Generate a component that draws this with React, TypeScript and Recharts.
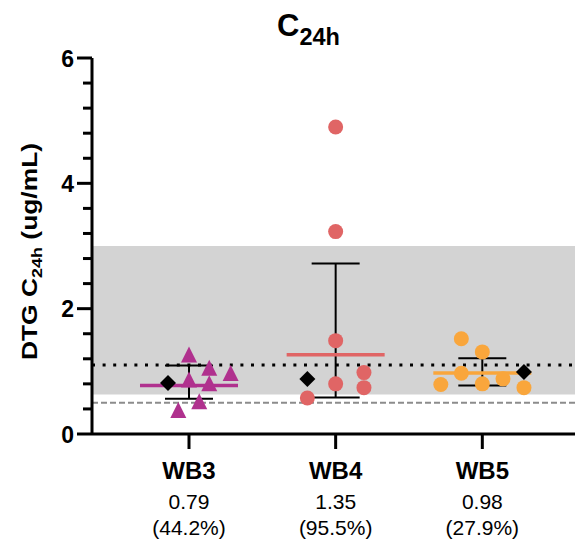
import React from "react";
import {
  ScatterChart,
  Scatter,
  XAxis,
  YAxis,
  ReferenceArea,
  ReferenceLine,
  ErrorBar,
  Customized,
} from "recharts";

// ---- data ----
const categories = ["WB3", "WB4", "WB5"];
const gmLabels = ["0.79", "1.35", "0.98"];
const cvLabels = ["(44.2%)", "(95.5%)", "(27.9%)"];

const wb3Values = [1.26, 1.05, 0.965, 0.86, 0.8, 0.515, 0.375];
const wb3Jitter = [0, 0.138, 0.284, 0, 0.138, 0.07, -0.073];
const wb4Values = [4.9, 3.23, 1.49, 0.8, 0.98, 0.74, 0.575];
const wb4Jitter = [0, 0, 0, 0, 0.193, 0.193, -0.193];
const wb5Values = [1.52, 1.31, 0.97, 0.79, 0.8, 0.88, 0.74];
const wb5Jitter = [-0.143, 0, -0.143, -0.283, 0, 0.141, 0.284];

const meanValues = [0.775, 1.265, 0.973];
const errLow = [0.563, 0.584, 0.775];
const errHigh = [1.095, 2.72, 1.21];

const diamondValues = [0.814, 0.878, 0.989];
const diamondJitter = [-0.143, -0.193, 0.284];

const bandLow = 0.63;
const bandHigh = 3.0;
const dottedRef = 1.1;
const dashedRef = 0.5;

const yTicks = [0, 0.4, 0.8, 1.2, 1.6, 2, 2.4, 2.8, 3.2, 3.6, 4, 4.4, 4.8, 5.2, 5.6, 6];
const yMajor = [0, 2, 4, 6];
const xTicks = [1, 2, 3];

// ---- styles ----
const FONT = "'Liberation Sans', Arial, sans-serif";
const PURPLE = "#B0318E";
const CORAL = "#E06565";
const ORANGE = "#F9A63C";

const toPoints = (vals: number[], jit: number[], group: number) =>
  vals.map((v, i) => ({ x: group + jit[i], y: v }));

const wb3Data = toPoints(wb3Values, wb3Jitter, 1);
const wb4Data = toPoints(wb4Values, wb4Jitter, 2);
const wb5Data = toPoints(wb5Values, wb5Jitter, 3);

const diamondData = diamondValues.map((v, i) => ({ x: i + 1 + diamondJitter[i], y: v }));
const errData = meanValues.map((_, i) => {
  const mid = (errLow[i] + errHigh[i]) / 2;
  return { x: i + 1, y: mid, err: [mid - errLow[i], errHigh[i] - mid] };
});
const meanColors = [PURPLE, CORAL, ORANGE];
const meanData = meanValues.map((v, i) => ({ x: i + 1, y: v, color: meanColors[i] }));

const Triangle = (props: any) => {
  const { cx, cy } = props;
  return (
    <polygon
      points={`${cx},${cy - 8.5} ${cx - 8},${cy + 7.5} ${cx + 8},${cy + 7.5}`}
      fill={PURPLE}
    />
  );
};
const makeCircle = (color: string) => (props: any) => (
  <circle cx={props.cx} cy={props.cy} r={7.5} fill={color} />
);
const Diamond = (props: any) => {
  const { cx, cy } = props;
  const h = 8;
  return (
    <polygon points={`${cx},${cy - h} ${cx + h},${cy} ${cx},${cy + h} ${cx - h},${cy}`} fill="#000" />
  );
};
const MeanLine = (props: any) => {
  const { cx, cy, payload } = props;
  return <line x1={cx - 49} x2={cx + 49} y1={cy} y2={cy} stroke={payload.color} strokeWidth={3.5} />;
};
const Empty = () => <g />;

const YTick = (props: any) => {
  const { x, y, payload } = props;
  const v = payload.value;
  const major = yMajor.includes(v);
  const len = major ? 15 : 9;
  return (
    <g>
      <line x1={x - len} x2={x} y1={y} y2={y} stroke="#000" strokeWidth={3} />
      {major && (
        <text
          x={x - len - 3}
          y={y + 8.5}
          textAnchor="end"
          fontSize={23}
          fontWeight="bold"
          fontFamily={FONT}
          fill="#000"
        >
          {v}
        </text>
      )}
    </g>
  );
};

const XTick = (props: any) => {
  const { x, y, payload } = props;
  const i = xTicks.indexOf(payload.value);
  return (
    <g fontFamily={FONT} fill="#000">
      <text x={x} y={y + 30} textAnchor="middle" fontSize={24} fontWeight="bold">
        {categories[i]}
      </text>
      <text x={x} y={y + 60} textAnchor="middle" fontSize={21}>
        {gmLabels[i]}
      </text>
      <text x={x} y={y + 86} textAnchor="middle" fontSize={21}>
        {cvLabels[i]}
      </text>
    </g>
  );
};

const Titles = () => (
  <g fontFamily={FONT} fill="#000" fontWeight="bold">
    <text x={277} y={36} textAnchor="start">
      <tspan fontSize={31}>C</tspan>
      <tspan fontSize={23.5} dy={9}>24h</tspan>
    </text>
    <g transform="translate(36.5 251.5) rotate(-90) scale(1.2 1)">
      <text x={0} y={0} textAnchor="middle">
        <tspan fontSize={22}>DTG C</tspan>
        <tspan fontSize={15} dy={5}>24h</tspan>
        <tspan fontSize={22} dy={-5}> (ug/mL)</tspan>
      </text>
    </g>
  </g>
);

export default function App() {
  return (
    <div style={{ position: "absolute", left: 0, top: 0, width: 575, height: 544, background: "#fff" }}>
      <ScatterChart width={575} height={544} margin={{ top: 58, right: 0, bottom: 0, left: 0 }}>
        <XAxis
          type="number"
          dataKey="x"
          domain={[0.3386, 3.632]}
          ticks={xTicks}
          allowDataOverflow
          height={110}
          tickSize={15}
          tickMargin={0}
          axisLine={{ stroke: "#000", strokeWidth: 3 }}
          tickLine={{ stroke: "#000", strokeWidth: 3 }}
          tick={<XTick />}
          interval={0}
        />
        <YAxis
          type="number"
          dataKey="y"
          domain={[0, 6]}
          ticks={yTicks}
          allowDataOverflow
          width={92}
          tickSize={0}
          tickMargin={0}
          axisLine={{ stroke: "#000", strokeWidth: 3 }}
          tickLine={false}
          tick={<YTick />}
          interval={0}
        />
        <ReferenceArea y1={bandLow} y2={bandHigh} fill="#d3d3d3" fillOpacity={1} stroke="none" />
        <ReferenceLine y={dottedRef} stroke="#000" strokeWidth={3} strokeDasharray="3 7.6" />
        <ReferenceLine y={dashedRef} stroke="#8c8c8c" strokeWidth={2} strokeDasharray="6 3" />
        <Scatter data={errData} shape={<Empty />} isAnimationActive={false}>
          <ErrorBar dataKey="err" direction="y" width={24} stroke="#000" strokeWidth={2} isAnimationActive={false} />
        </Scatter>
        <Scatter data={meanData} shape={<MeanLine />} isAnimationActive={false} />
        <Scatter data={wb3Data} shape={<Triangle />} isAnimationActive={false} />
        <Scatter data={wb4Data} shape={makeCircle(CORAL)} isAnimationActive={false} />
        <Scatter data={wb5Data} shape={makeCircle(ORANGE)} isAnimationActive={false} />
        <Scatter data={diamondData} shape={<Diamond />} isAnimationActive={false} />
        <Customized component={Titles} />
      </ScatterChart>
    </div>
  );
}
